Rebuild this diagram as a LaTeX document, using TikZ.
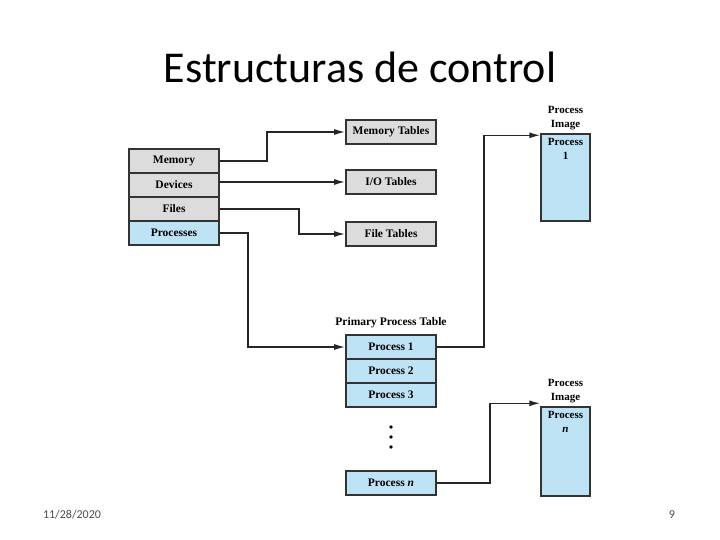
\documentclass[tikz,border=0pt]{standalone}
\usepackage{fontspec}
\setmainfont{Liberation Serif}
\newfontfamily\titlefont{Carlito}
\usetikzlibrary{arrows.meta,positioning}
\definecolor{tabgray}{HTML}{DCDCDC}
\definecolor{tabblue}{HTML}{BEE3F5}
\definecolor{edgegray}{HTML}{333333}
\tikzset{
tbox/.style={draw=edgegray, line width=1.6pt, fill=tabgray, minimum width=90pt, minimum height=24pt, inner sep=0pt, font=\fontsize{11.5}{13}\selectfont\bfseries},
rowbox/.style={tbox, fill=tabblue},
imgbox/.style={draw=edgegray, line width=1.4pt, fill=tabblue, minimum width=49pt, inner sep=0pt},
hdr/.style={font=\fontsize{11}{14}\selectfont\bfseries, align=center, inner sep=1pt},
arr/.style={line width=1.4pt, draw=black!85, -{Latex[length=11pt, width=6pt]}},
link/.style={line width=1.4pt, draw=black!85}
}

\begin{document}
\begin{tikzpicture}[x=1pt, y=-1pt]
\useasboundingbox[fill=white] (0,0) rectangle (720,540);
\node[font=\titlefont\fontsize{44}{48}\selectfont] (title) at (360,67) {Estructuras de control};
\node[font=\titlefont\fontsize{12}{14}\selectfont, text=black!70] (date) at (72,515) {11/28/2020};
\node[font=\titlefont\fontsize{12}{14}\selectfont, text=black!70] (page) at (672,515) {9};
% left table
\node[tbox] (mem) at (174,161) {Memory};
\node[tbox] (dev) at (174,185) {Devices};
\node[tbox] (fil) at (174,209) {Files};
\node[rowbox] (proc) at (174,233) {Processes};
% tables
\node[tbox] (memt) at (391,132) {Memory Tables};
\node[tbox] (iot) at (391,182) {I/O Tables};
\node[tbox] (filt) at (391,234) {File Tables};
% primary process table
\node[hdr, font=\fontsize{11.5}{14}\selectfont\bfseries] (ppt) at (391,323) {Primary Process Table};
\node[rowbox] (p1) at (391,347) {Process 1};
\node[rowbox] (p2) at (391,371) {Process 2};
\node[rowbox] (p3) at (391,395) {Process 3};
\node[rowbox] (pn) at (391,483) {Process \textit{n}};
\foreach \d in {427,437,447}
\fill (391,\d) circle (1.8pt);
% process images
\node[imgbox, minimum height=87pt, label={[hdr, anchor=north, yshift=-4pt]north:Process\\1}] (img1) at (565.5,177.5) {};
\node[hdr, above=2pt of img1] (imh1) {Process\\Image};
\node[imgbox, minimum height=89pt, label={[hdr, anchor=north, yshift=-4pt]north:Process\\\textit{n}}] (imgn) at (565.5,451.5) {};
\node[hdr, above=2pt of imgn] (imhn) {Process\\Image};
% connectors
\draw[arr] (mem.east) -- (267,161) |- (memt.west);
\draw[arr] (dev.east |- iot.west) -- (iot.west);
\draw[arr] (fil.east) -- (299,209) |- (filt.west);
\draw[arr] (proc.east) -- (248,233) |- (p1.west);
\draw[arr] (p1.east) -- (484,347) |- ([yshift=-2pt]img1.north west);
\draw[arr] (pn.east) -- (490,483) |- ([yshift=3pt]imgn.north west);
\end{tikzpicture}
\end{document}
